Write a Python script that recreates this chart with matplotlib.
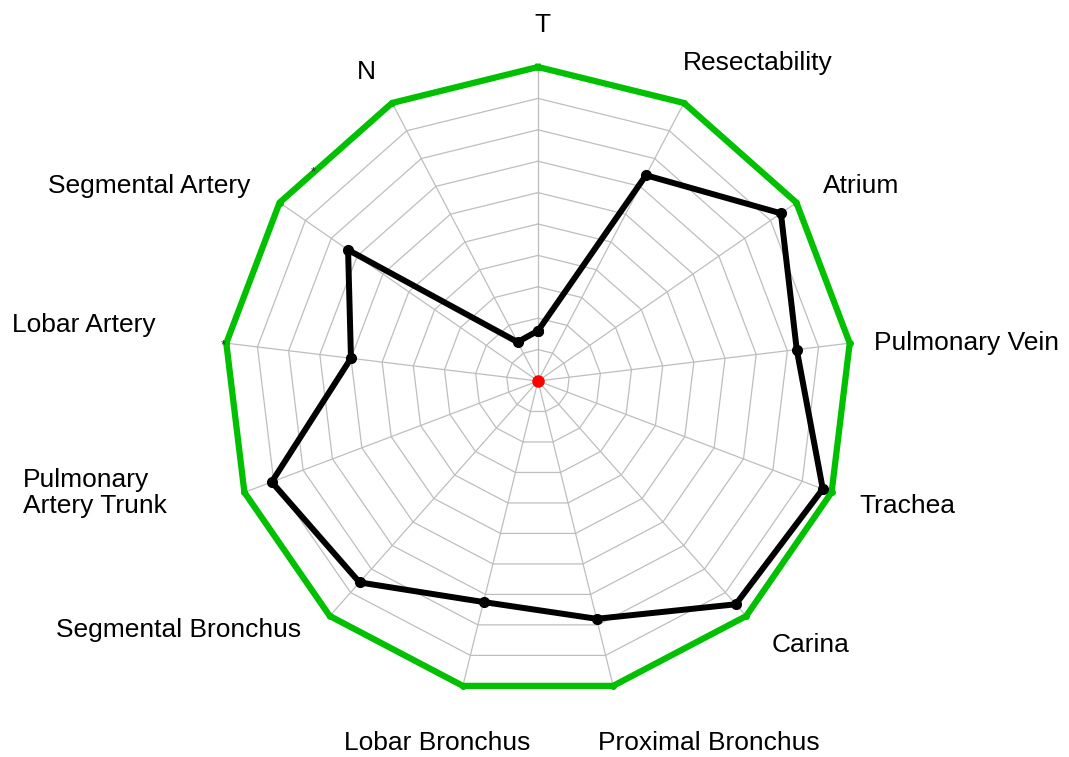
import numpy as np
import matplotlib
matplotlib.use('Agg')
import matplotlib.pyplot as plt

# axes, clockwise from the top
labels = ['T', 'Resectability', 'Atrium', 'Pulmonary Vein', 'Trachea', 'Carina',
          'Proximal Bronchus', 'Lobar Bronchus', 'Segmental Bronchus',
          'Pulmonary\nArtery Trunk', 'Lobar Artery', 'Segmental Artery', 'N']
values = [0.16, 0.74, 0.94, 0.83, 0.97, 0.95, 0.78, 0.725, 0.857, 0.907, 0.60, 0.735, 0.14]
max_values = [1.0] * 13
n_rings = 10

plt.rcParams['font.family'] = ['Liberation Sans', 'DejaVu Sans']

W, H = 1069, 757
cx, cy, R = 538, 381, 314   # centre and radius in pixels

def pos(px, py):
    # pixel position -> data units (1 = full radius)
    return (px - cx) / R, (cy - py) / R

fig = plt.figure(figsize=(W / 100, H / 100), dpi=100)
ax = fig.add_axes([0, 0, 1, 1])
ax.set_xlim(-cx / R, (W - cx) / R)
ax.set_ylim(-(H - cy) / R, cy / R)
ax.set_aspect('equal')
ax.axis('off')

n = len(labels)
ang = np.pi / 2 - np.arange(n) * 2 * np.pi / n
ca = np.append(np.cos(ang), np.cos(ang[0]))
sa = np.append(np.sin(ang), np.sin(ang[0]))

# grid
for k in range(1, n_rings):
    r = k / n_rings
    ax.plot(r * ca, r * sa, color='#bebebe', lw=0.9, zorder=1)
for a in ang:
    ax.plot([0, np.cos(a)], [0, np.sin(a)], color='#bebebe', lw=0.9, zorder=1)

# max polygon
mv = np.append(max_values, max_values[0])
ax.plot(mv * ca, mv * sa, color='#00c000', lw=4.5, marker='o', ms=4,
        solid_joinstyle='miter', zorder=2)

# data polygon
v = np.append(values, values[0])
ax.plot(v * ca, v * sa, color='black', lw=4.3, marker='o', ms=7, zorder=3)

ax.plot(0, 0, 'o', color='red', ms=8, zorder=4)

# labels: (x, baseline y) in pixels, alignment
label_pos = [(542, 32, 'center'), (758, 70, 'center'), (861, 193, 'center'),
             (967, 350, 'center'), (907, 513, 'center'), (811, 652, 'center'),
             (709, 750, 'center'), (437, 750, 'center'), (179, 637, 'center'),
             (23, 487, 'left'), (84, 332, 'center'), (149, 193, 'center'),
             (366, 79, 'center')]
for lab, (px, py, ha) in zip(labels, label_pos):
    x, y = pos(px, py)
    if '\n' in lab:
        first, second = lab.split('\n')
        ax.text(x, y, first, fontsize=19, ha=ha, va='baseline')
        x2, y2 = pos(px, py + 26)
        ax.text(x2, y2, second, fontsize=19, ha=ha, va='baseline')
    else:
        ax.text(x, y, lab, fontsize=19, ha=ha, va='baseline')

# small asterisks on the outer ring
for px, py in [(313, 172), (223, 345)]:
    x, y = pos(px, py)
    ax.text(x, y, '*', fontsize=9, color='#333333', ha='center', va='center')

plt.savefig('out.png', dpi=100)
